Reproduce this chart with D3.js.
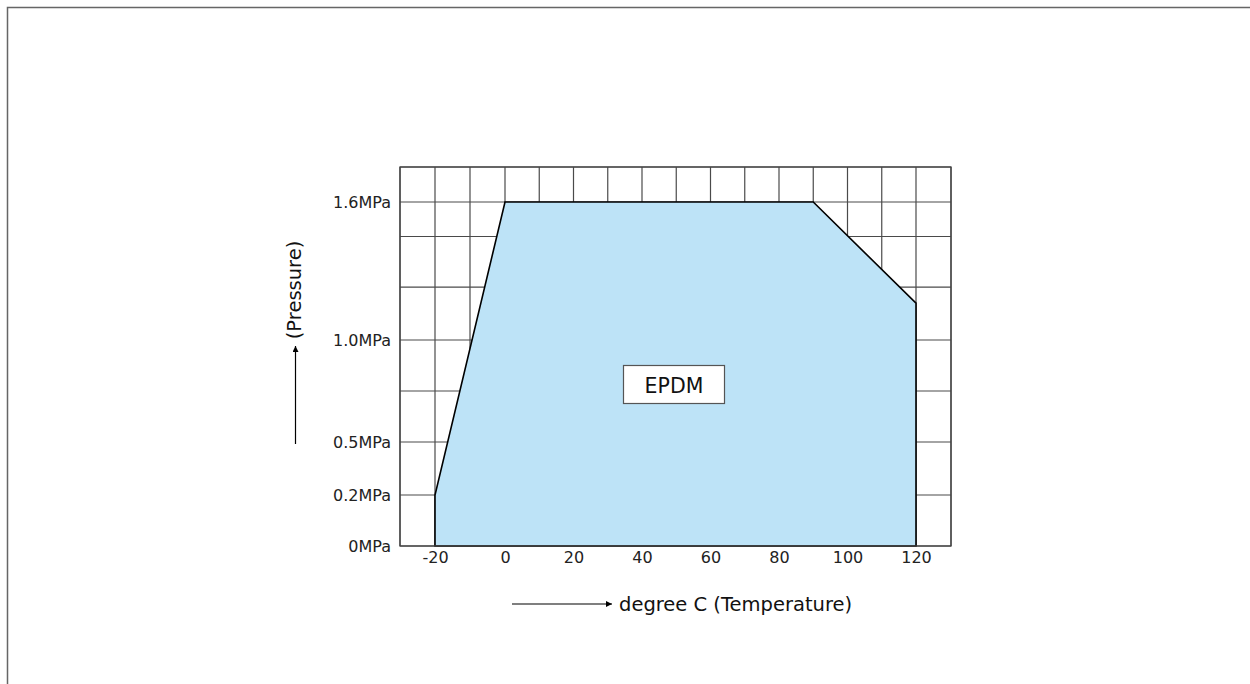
<!DOCTYPE html>
<html><head><meta charset="utf-8">
<script src="https://cdn.jsdelivr.net/npm/d3@7/dist/d3.min.js"></script>
<style>html,body{margin:0;padding:0;background:#fff;}svg{display:block;}</style>
</head><body>
<script>
// ---- data ----
const xTickValues = [-20, 0, 20, 40, 60, 80, 100, 120];
const xGridValues = [-30, -20, -10, 0, 10, 20, 30, 40, 50, 60, 70, 80, 90, 100, 110, 120, 130];
const yTickValues = [0, 0.2, 0.5, 1.0, 1.6];
const yTickLabels = ["0MPa", "0.2MPa", "0.5MPa", "1.0MPa", "1.6MPa"];
const yGridValues = [0, 0.2, 0.5, 0.75, 1.0, 1.23, 1.45, 1.6, 1.75];
const envelopeTemp = [-20, -20, 0, 90, 120, 120];
const envelopePressure = [0, 0.2, 1.6, 1.6, 1.16, 0];
const materialLabel = "EPDM";
const xTitle = "degree C (Temperature)";
const yTitle = "(Pressure)";

const W = 1250, H = 684;
const svg = d3.select("body").append("svg").attr("width", W).attr("height", H);
const font = "'DejaVu Sans', sans-serif";

// page border
svg.append("path").attr("d", `M7.5,${H} L7.5,7.5 L${W},7.5`).attr("fill", "none")
  .attr("stroke", "#666").attr("stroke-width", 1.5);

const x = d3.scaleLinear().domain([-30, -20, 0, 120, 130]).range([400, 435, 505, 916, 951]);
const y = d3.scaleLinear().domain([0, 0.2, 0.5, 1.0, 1.6, 1.75]).range([546, 495, 442, 340, 202, 167]);

const grid = svg.append("g").attr("stroke", "#4a4a4a").attr("stroke-width", 1.2);
grid.selectAll("line.v").data(xGridValues).join("line").attr("class", "v")
  .attr("x1", d => x(d)).attr("x2", d => x(d)).attr("y1", y(1.75)).attr("y2", y(0));
grid.selectAll("line.h").data(yGridValues).join("line").attr("class", "h")
  .attr("x1", x(-30)).attr("x2", x(130)).attr("y1", d => y(d)).attr("y2", d => y(d));

// envelope
const pts = envelopeTemp.map((t, i) => [x(t), y(envelopePressure[i])]);
svg.append("path").attr("d", d3.line()(pts) + "Z").attr("fill", "#bde3f7")
  .attr("stroke", "#000").attr("stroke-width", 1.6).attr("stroke-linejoin", "miter");

// frame
svg.append("rect").attr("x", x(-30)).attr("y", y(1.75)).attr("width", x(130) - x(-30))
  .attr("height", y(0) - y(1.75)).attr("fill", "none").attr("stroke", "#444").attr("stroke-width", 1.3);

// axes labels (no tick lines)
const xAxis = d3.axisBottom(x).tickValues(xTickValues).tickSize(0).tickPadding(6).tickFormat(d => String(d));
const gx = svg.append("g").attr("transform", `translate(0,${y(0)})`).call(xAxis);
gx.select(".domain").remove();
gx.selectAll("text").attr("font-family", font).attr("font-size", 16).attr("fill", "#222");

const yAxis = d3.axisLeft(y).tickValues(yTickValues).tickSize(0).tickPadding(9)
  .tickFormat((d, i) => yTickLabels[i]);
const gy = svg.append("g").attr("transform", `translate(${x(-30)},0)`).call(yAxis);
gy.select(".domain").remove();
gy.selectAll("text").attr("font-family", font).attr("font-size", 16).attr("fill", "#222");

// material label box
const cx = 674, cy = 385;
svg.append("rect").attr("x", cx - 50.5).attr("y", cy - 19.5).attr("width", 101).attr("height", 38)
  .attr("fill", "#fff").attr("stroke", "#555").attr("stroke-width", 1.2);
svg.append("text").attr("x", cx).attr("y", cy + 1).attr("text-anchor", "middle")
  .attr("dominant-baseline", "central").attr("font-family", font).attr("font-size", 20.5)
  .attr("fill", "#111").text(materialLabel);

// arrowheads
const defs = svg.append("defs");
defs.append("marker").attr("id", "arr").attr("viewBox", "0 0 10 10").attr("refX", 10).attr("refY", 5)
  .attr("markerWidth", 14).attr("markerHeight", 6).attr("markerUnits", "userSpaceOnUse").attr("orient", "auto")
  .append("path").attr("d", "M0,0 L10,5 L0,10 Z").attr("fill", "#000");

// x title
svg.append("line").attr("x1", 512).attr("x2", 612).attr("y1", 604).attr("y2", 604)
  .attr("stroke", "#000").attr("stroke-width", 1.2).attr("marker-end", "url(#arr)");
svg.append("text").attr("x", 619).attr("y", 604).attr("dominant-baseline", "central")
  .attr("font-family", font).attr("font-size", 19.5).attr("fill", "#111").text(xTitle);

// y title
svg.append("line").attr("x1", 295.5).attr("x2", 295.5).attr("y1", 444).attr("y2", 346)
  .attr("stroke", "#000").attr("stroke-width", 1.2).attr("marker-end", "url(#arr)");
svg.append("text").attr("transform", "translate(294,290) rotate(-90)").attr("text-anchor", "middle")
  .attr("dominant-baseline", "central").attr("font-family", font).attr("font-size", 19.5)
  .attr("fill", "#111").text(yTitle);
</script>
</body></html>
